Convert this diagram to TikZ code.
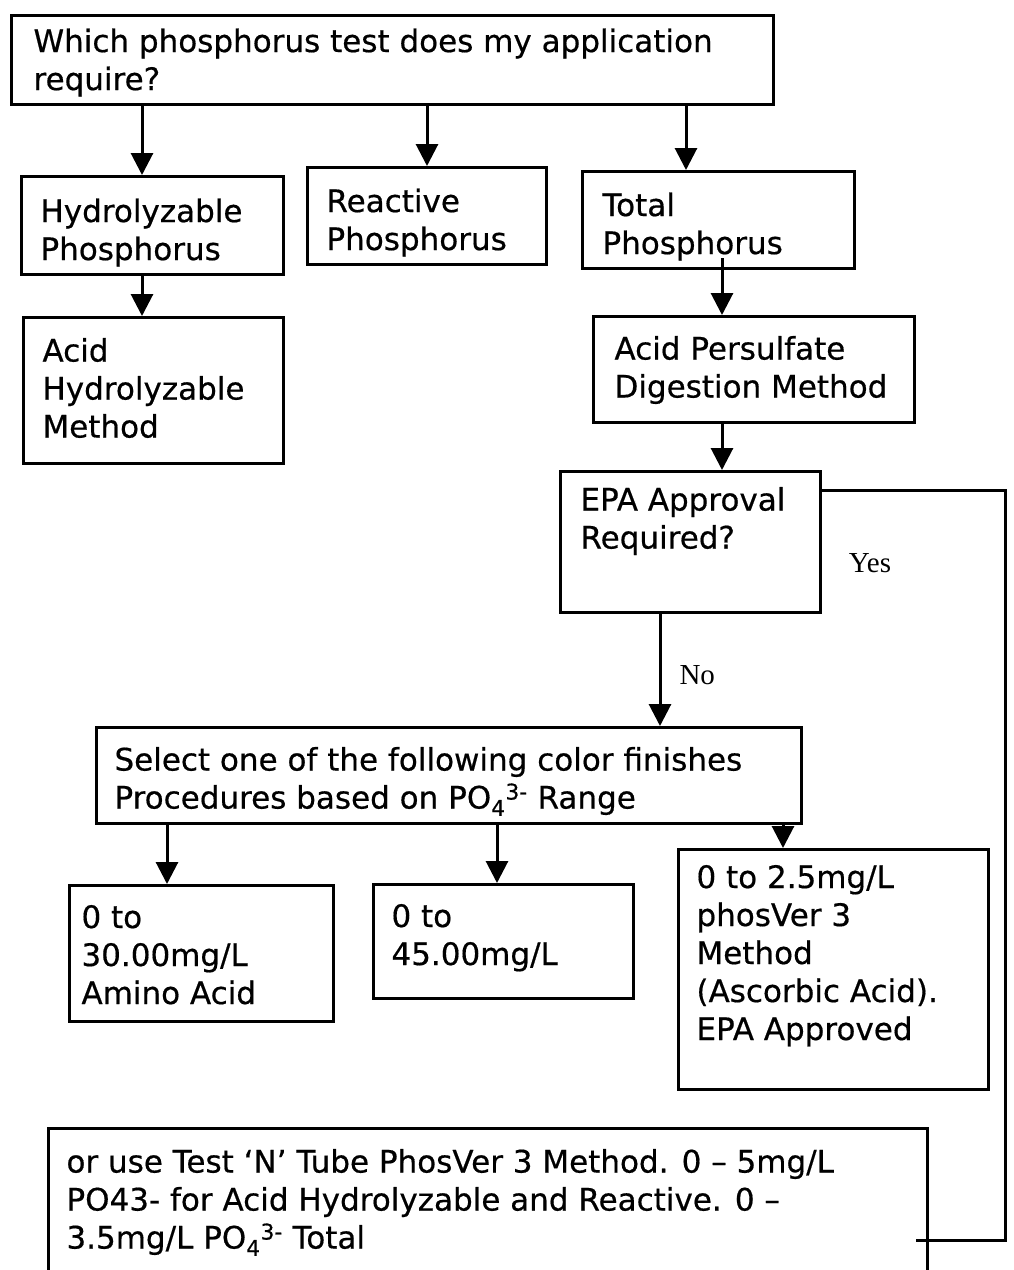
\documentclass[tikz,border=0pt]{standalone}
\usepackage{fontspec}
\setmainfont[FakeBold=0.5]{DejaVu Sans}
\newfontfamily\lblserif{Liberation Serif}
\usetikzlibrary{arrows.meta,calc}
\newcommand\bt[5]{\parbox[c][#2pt][t]{#1pt}{\lineskiplimit=-60pt\vspace*{#3pt}\raggedright\leftskip=#4pt\relax #5\par}}
\begin{document}
\begin{tikzpicture}[x=1pt,y=-1pt,
  box/.style={draw,line width=3pt,inner sep=0pt,anchor=north west,rectangle,font=\fontsize{31}{38}\selectfont},
  arr/.style={line width=3pt,-{Triangle[width=22pt,length=22pt]}},
  link/.style={line width=3pt},
  lbl/.style={font=\lblserif\fontsize{29}{34}\selectfont,inner sep=0pt}]
\clip (0,0) rectangle (1014,1270);
\fill[white] (0,0) rectangle (1014,1270);
\node[box] (top) at (10,14) {\bt{762}{89}{13}{22}{Which phosphorus test does my application\\require?}};
\node[box] (hyd) at (20,175) {\bt{262}{98}{22}{19}{Hydrolyzable\\Phosphorus}};
\node[box] (rea) at (306,166) {\bt{239}{97}{21}{19}{Reactive\\Phosphorus}};
\node[box] (tot) at (581,170) {\bt{272}{97}{21}{20}{Total\\Phosphorus}};
\node[box] (ahm) at (22,316) {\bt{260}{146}{20.5}{19}{Acid\\Hydrolyzable\\Method}};
\node[box] (aps) at (592,315) {\bt{321}{106}{19.5}{21}{Acid Persulfate\\Digestion Method}};
\node[box] (epa) at (559,470) {\bt{260}{141}{15.5}{20}{EPA Approval\\Required?}};
\node[box] (sel) at (95,726) {\bt{705}{96}{19.5}{18}{Select one of the following color finishes\\Procedures based on PO\textsubscript{4}\textsuperscript{3-} Range}};
\node[box] (r1) at (68,884) {\bt{264}{136}{19.5}{12}{0 to\\30.00mg/L\\Amino Acid}};
\node[box] (r2) at (372,883) {\bt{260}{114}{19.5}{18}{0 to\\45.00mg/L}};
\node[box] (r3) at (677,848) {\bt{310}{240}{15.5}{18}{0 to 2.5mg/L\\phosVer 3\\Method\\(Ascorbic Acid).\\EPA Approved}};
\node[box] (bot) at (47,1127) {\bt{879}{160}{20.5}{18}{or use Test ‘N’ Tube PhosVer 3 Method. 0 – 5mg/L\\PO43- for Acid Hydrolyzable and Reactive. 0 –\\3.5mg/L PO\textsubscript{4}\textsuperscript{3-} Total}};
\coordinate (c1) at (142,0);
\coordinate (c2) at (427,0);
\coordinate (c3) at (686,0);
\coordinate (c4) at (722,0);
\coordinate (c5) at (660,0);
\coordinate (c6) at (167,0);
\coordinate (c7) at (497,0);
\coordinate (c8) at (783,0);
\coordinate (ya) at (1005,490);
\coordinate (yb) at (1005,1240);
\coordinate (ts) at ($(tot.south -| c4)+(0,-12)$);
\draw[arr] (top.south -| c1) -- (hyd.north -| c1);
\draw[arr] (top.south -| c2) -- (rea.north -| c2);
\draw[arr] (top.south -| c3) -- (tot.north -| c3);
\draw[arr] (hyd.south -| c1) -- (ahm.north -| c1);
\draw[arr] (ts) -- (aps.north -| c4);
\draw[arr] (aps.south -| c4) -- (epa.north -| c4);
\draw[arr] (epa.south -| c5) -- node[lbl,pos=0.55,anchor=west,xshift=18pt] (no) {No} (sel.north -| c5);
\node[lbl] (yes) at (870,563) {Yes};
\draw[link] (epa.east |- ya) -- (ya) -- (yb) -- ($(bot.east |- yb)+(-13,0)$);
\draw[arr] (sel.south -| c6) -- (r1.north -| c6);
\draw[arr] (sel.south -| c7) -- (r2.north -| c7);
\draw[arr] (sel.south -| c8) -- (r3.north -| c8);
\end{tikzpicture}
\end{document}
